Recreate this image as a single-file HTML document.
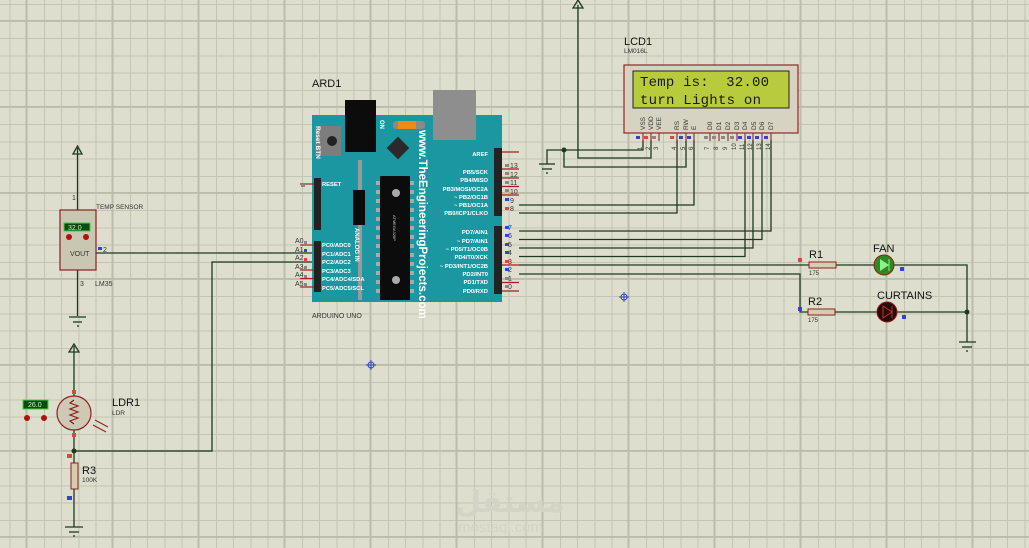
<!DOCTYPE html>
<html><head><meta charset="utf-8"><style>
html,body{margin:0;padding:0}
body{width:1029px;height:548px;overflow:hidden;position:relative;background:#dedecf;
background-image:
repeating-linear-gradient(90deg,transparent 0,transparent 25.7px,#bcbcaa 25.7px,#bcbcaa 27.4px,transparent 27.4px,transparent 86px),
repeating-linear-gradient(180deg,transparent 0,transparent 20px,#bcbcaa 20px,#bcbcaa 21.7px,transparent 21.7px,transparent 86px),
repeating-linear-gradient(90deg,transparent 0,transparent 9.5px,#c4c4b2 9.5px,#c4c4b2 10.5px,transparent 10.5px,transparent 17.2px),
repeating-linear-gradient(180deg,transparent 0,transparent 3.8px,#c4c4b2 3.8px,#c4c4b2 4.8px,transparent 4.8px,transparent 17.2px);}
svg{position:absolute;left:0;top:0}
text{font-family:"Liberation Sans",sans-serif}
</style></head><body>
<svg width="1029" height="548" viewBox="0 0 1029 548">
<g fill="none" stroke="#1d3a1d" stroke-width="1.3">
<polyline points="578,5 578,158 651,158 651,140"/>
<polyline points="643,140 643,150 547,150 547,164"/>
<polyline points="564,150 564,167 686,167 686,140"/>
<polyline points="519,213 677,213 677,140"/>
<polyline points="519,205 694,205 694,140"/>
<polyline points="519,231 771,231 771,140"/>
<polyline points="519,239.5 762,239.5 762,140"/>
<polyline points="519,248 753,248 753,140"/>
<polyline points="519,256.5 745,256.5 745,140"/>
<polyline points="519,265 809,265"/>
<polyline points="519,274 800,274 800,312 808,312"/>
<polyline points="836,265 874,265"/>
<polyline points="894,265 967,265 967,342"/>
<polyline points="835,312 877,312"/>
<polyline points="897,312 967,312"/>
<polyline points="77.5,148 77.5,210"/>
<polyline points="77.5,270 77.5,316"/>
<polyline points="96,253 312,253"/>
<polyline points="312,262 212,262 212,451 74,451"/>
<polyline points="74,346 74,396"/>
<polyline points="74,430 74,463"/>
<polyline points="74,489 74,527"/>
</g>
<g fill="none" stroke="#1d3a1d" stroke-width="1.3">
<path d="M573,8 L578,0 L583,8 Z"/>
<path d="M73,154 L77.5,146 L82,154 Z"/>
<path d="M69,352 L74,344 L79,352 Z"/>
</g>
<g stroke="#1d3a1d" stroke-width="1.3">
<line x1="539" y1="164" x2="555" y2="164"/><line x1="542" y1="169" x2="552" y2="169"/><line x1="546" y1="173" x2="548" y2="173"/>
<line x1="69" y1="317" x2="86" y2="317"/><line x1="73" y1="322" x2="82" y2="322"/><line x1="77" y1="326" x2="79" y2="326"/>
<line x1="65" y1="527" x2="83" y2="527"/><line x1="69" y1="532" x2="79" y2="532"/><line x1="73" y1="536" x2="75" y2="536"/>
<line x1="959" y1="342" x2="976" y2="342"/><line x1="962" y1="347" x2="972" y2="347"/><line x1="966" y1="351" x2="968" y2="351"/>
</g>
<g fill="#1d3a1d"><circle cx="564" cy="150" r="2.5"/><circle cx="967" cy="312" r="2.5"/><circle cx="74" cy="451" r="2.5"/></g>

<rect x="624" y="65" width="174" height="68" fill="#d6d3c2" stroke="#a03030" stroke-width="1.3"/>
<rect x="633" y="71" width="156" height="37" fill="#b7cb3c" stroke="#222" stroke-width="1"/>
<text x="640" y="86" font-size="14" fill="#1a1a1a" textLength="129" lengthAdjust="spacing" xml:space="preserve" style="font-family:'Liberation Mono',monospace">Temp is:  32.00</text>
<text x="640" y="104" font-size="14" fill="#1a1a1a" textLength="121" lengthAdjust="spacing" style="font-family:'Liberation Mono',monospace">turn Lights on</text>
<g font-size="6.5" fill="#333">
<text transform="translate(645,130) rotate(-90)">VSS</text><text transform="translate(653,130) rotate(-90)">VDD</text><text transform="translate(661,130) rotate(-90)">VEE</text>
<text transform="translate(679,130) rotate(-90)">RS</text><text transform="translate(688,130) rotate(-90)">RW</text><text transform="translate(696,130) rotate(-90)">E</text>
<text transform="translate(712,130) rotate(-90)">D0</text><text transform="translate(721,130) rotate(-90)">D1</text><text transform="translate(730,130) rotate(-90)">D2</text><text transform="translate(739,130) rotate(-90)">D3</text>
<text transform="translate(747,130) rotate(-90)">D4</text><text transform="translate(756,130) rotate(-90)">D5</text><text transform="translate(764,130) rotate(-90)">D6</text><text transform="translate(773,130) rotate(-90)">D7</text>
</g>
<g stroke="#a03030" stroke-width="1.2">
<line x1="643" y1="133" x2="643" y2="141"/><line x1="651" y1="133" x2="651" y2="141"/><line x1="659" y1="133" x2="659" y2="141"/>
<line x1="677" y1="133" x2="677" y2="141"/><line x1="686" y1="133" x2="686" y2="141"/><line x1="694" y1="133" x2="694" y2="141"/>
<line x1="710" y1="133" x2="710" y2="141"/><line x1="719" y1="133" x2="719" y2="141"/><line x1="728" y1="133" x2="728" y2="141"/><line x1="737" y1="133" x2="737" y2="141"/>
<line x1="745" y1="133" x2="745" y2="141"/><line x1="753" y1="133" x2="753" y2="141"/><line x1="762" y1="133" x2="762" y2="141"/><line x1="771" y1="133" x2="771" y2="141"/>
</g>
<g>
<rect x="636" y="136" width="4" height="3" fill="#3344cc"/><rect x="644" y="136" width="4" height="3" fill="#dd4444"/><rect x="652" y="136" width="4" height="3" fill="#888"/>
<rect x="670" y="136" width="4" height="3" fill="#dd4444"/><rect x="679" y="136" width="4" height="3" fill="#3344cc"/><rect x="687" y="136" width="4" height="3" fill="#3344cc"/>
<rect x="704" y="136" width="4" height="3" fill="#888"/><rect x="712" y="136" width="4" height="3" fill="#888"/><rect x="721" y="136" width="4" height="3" fill="#888"/><rect x="730" y="136" width="4" height="3" fill="#888"/>
<rect x="738" y="136" width="4" height="3" fill="#3344cc"/><rect x="747" y="136" width="4" height="3" fill="#3344cc"/><rect x="755" y="136" width="4" height="3" fill="#3344cc"/><rect x="764" y="136" width="4" height="3" fill="#3344cc"/>
</g>
<g font-size="6" fill="#333">
<text transform="translate(642,150) rotate(-90)">1</text><text transform="translate(650,150) rotate(-90)">2</text><text transform="translate(658,150) rotate(-90)">3</text>
<text transform="translate(676,150) rotate(-90)">4</text><text transform="translate(685,150) rotate(-90)">5</text><text transform="translate(693,150) rotate(-90)">6</text>
<text transform="translate(709,150) rotate(-90)">7</text><text transform="translate(718,150) rotate(-90)">8</text><text transform="translate(727,150) rotate(-90)">9</text><text transform="translate(736,150) rotate(-90)">10</text>
<text transform="translate(744,150) rotate(-90)">11</text><text transform="translate(752,150) rotate(-90)">12</text><text transform="translate(761,150) rotate(-90)">13</text><text transform="translate(770,150) rotate(-90)">14</text>
</g>
<text x="624" y="45" font-size="11" fill="#111">LCD1</text>
<text x="624" y="53" font-size="6.5" fill="#333">LM016L</text>

<text x="312" y="87" font-size="11" fill="#111">ARD1</text>
<rect x="312" y="115" width="190" height="187" fill="#1b97a1"/>
<rect x="345" y="100" width="31" height="52" fill="#0c0c0c"/>
<rect x="433" y="90" width="43" height="50" fill="#8e8e8e"/>
<rect x="315" y="126" width="26" height="30" fill="#7d7d7d"/>
<circle cx="332" cy="141" r="5" fill="#222"/>
<text transform="translate(316,126) rotate(90)" font-size="6.5" font-weight="bold" fill="#fff">Reset BTN</text>
<text transform="translate(380,120) rotate(90)" font-size="6" font-weight="bold" fill="#fff">ON</text>
<rect x="393" y="121" width="32" height="8" rx="3" fill="#8a8a8a"/>
<rect x="398" y="121" width="18" height="8" fill="#f08a10"/>
<rect x="390" y="140" width="16" height="16" fill="#2a2a2a" transform="rotate(45 398 148)"/>
<rect x="358" y="160" width="4" height="140" fill="#9a9a9a"/>
<rect x="353" y="190" width="12" height="35" fill="#0c0c0c"/>
<text transform="translate(355,228) rotate(90)" font-size="6" font-weight="bold" fill="#fff">ANALOG IN</text>
<rect x="380" y="176" width="30" height="124" fill="#0c0c0c"/>
<g fill="#a9a9a9">
<rect x="376" y="181" width="4" height="4"/><rect x="376" y="190" width="4" height="4"/><rect x="376" y="199" width="4" height="4"/><rect x="376" y="208" width="4" height="4"/><rect x="376" y="217" width="4" height="4"/><rect x="376" y="226" width="4" height="4"/><rect x="376" y="235" width="4" height="4"/><rect x="376" y="244" width="4" height="4"/><rect x="376" y="253" width="4" height="4"/><rect x="376" y="262" width="4" height="4"/><rect x="376" y="271" width="4" height="4"/><rect x="376" y="280" width="4" height="4"/><rect x="376" y="289" width="4" height="4"/>
<rect x="410" y="181" width="4" height="4"/><rect x="410" y="190" width="4" height="4"/><rect x="410" y="199" width="4" height="4"/><rect x="410" y="208" width="4" height="4"/><rect x="410" y="217" width="4" height="4"/><rect x="410" y="226" width="4" height="4"/><rect x="410" y="235" width="4" height="4"/><rect x="410" y="244" width="4" height="4"/><rect x="410" y="253" width="4" height="4"/><rect x="410" y="262" width="4" height="4"/><rect x="410" y="271" width="4" height="4"/><rect x="410" y="280" width="4" height="4"/><rect x="410" y="289" width="4" height="4"/>
<circle cx="396" cy="193" r="4"/><circle cx="396" cy="280" r="4"/>
</g>
<text transform="translate(393,215) rotate(90)" font-size="4" fill="#ccc">ATMEGA328P</text>
<text transform="translate(419,130) rotate(90)" font-size="11.5" font-weight="bold" fill="#fff">www.TheEngineeringProjects.com</text>
<g font-size="5.8" font-weight="bold" fill="#fff" text-anchor="end">
<text x="488" y="156">AREF</text><text x="488" y="174">PB5/SCK</text><text x="488" y="182">PB4/MISO</text><text x="488" y="191">PB3/MOSI/OC2A</text><text x="488" y="199">~ PB2/OC1B</text><text x="488" y="207">~ PB1/OC1A</text><text x="488" y="215">PB0/ICP1/CLKO</text>
<text x="488" y="234">PD7/AIN1</text><text x="488" y="243">~ PD7/AIN1</text><text x="488" y="251">~ PD5/T1/OC0B</text><text x="488" y="259">PD4/T0/XCK</text><text x="488" y="268">~ PD3/INT1/OC2B</text><text x="488" y="276">PD2/INT0</text><text x="488" y="284">PD1/TXD</text><text x="488" y="293">PD0/RXD</text>
</g>
<g font-size="5.8" font-weight="bold" fill="#fff">
<text x="322" y="186">RESET</text>
<text x="322" y="247">PC0/ADC0</text><text x="322" y="256">PC1/ADC1</text><text x="322" y="264">PC2/ADC2</text><text x="322" y="273">PC3/ADC3</text><text x="322" y="281">PC4/ADC4/SDA</text><text x="322" y="290">PC5/ADC5/SCL</text>
</g>
<rect x="494" y="148" width="8" height="68" fill="#222"/>
<rect x="494" y="226" width="8" height="68" fill="#222"/>
<rect x="314" y="178" width="7" height="52" fill="#222"/>
<rect x="314" y="241" width="7" height="51" fill="#222"/>
<g stroke="#a02020" stroke-width="1.2">
<line x1="502" y1="152" x2="519" y2="152"/><line x1="502" y1="169" x2="519" y2="169"/><line x1="502" y1="178" x2="519" y2="178"/><line x1="502" y1="186.5" x2="519" y2="186.5"/><line x1="502" y1="195" x2="519" y2="195"/>
<line x1="502" y1="265" x2="519" y2="265"/><line x1="502" y1="282.5" x2="519" y2="282.5"/><line x1="502" y1="291" x2="519" y2="291"/>
<line x1="300" y1="184" x2="314" y2="184"/>
<line x1="300" y1="245" x2="314" y2="245"/><line x1="300" y1="270" x2="314" y2="270"/><line x1="300" y1="278.5" x2="314" y2="278.5"/><line x1="300" y1="287" x2="314" y2="287"/>
</g>
<g font-size="7" fill="#333">
<text x="510" y="168">13</text><text x="510" y="177">12</text><text x="510" y="185">11</text><text x="510" y="194">10</text><text x="510" y="203">9</text><text x="510" y="211">8</text>
<text x="508" y="230">7</text><text x="508" y="238">6</text><text x="508" y="247">5</text><text x="508" y="255">4</text><text x="508" y="264">3</text><text x="508" y="272">2</text><text x="508" y="281">1</text><text x="508" y="289">0</text>
<text x="295" y="243">A0</text><text x="295" y="252">A1</text><text x="295" y="260">A2</text><text x="295" y="269">A3</text><text x="295" y="277">A4</text><text x="295" y="286">A5</text>
</g>
<g>
<rect x="505" y="164" width="4" height="3" fill="#888"/><rect x="505" y="172" width="4" height="3" fill="#888"/><rect x="505" y="181" width="4" height="3" fill="#888"/><rect x="505" y="189" width="4" height="3" fill="#888"/><rect x="505" y="198" width="4" height="3" fill="#3344cc"/><rect x="505" y="207" width="4" height="3" fill="#dd4444"/>
<rect x="505" y="226" width="4" height="3" fill="#3344cc"/><rect x="505" y="234" width="4" height="3" fill="#3344cc"/><rect x="505" y="243" width="4" height="3" fill="#3344cc"/><rect x="505" y="251" width="4" height="3" fill="#3344cc"/><rect x="505" y="260" width="4" height="3" fill="#dd4444"/><rect x="505" y="268" width="4" height="3" fill="#3344cc"/><rect x="505" y="277" width="4" height="3" fill="#888"/><rect x="505" y="285" width="4" height="3" fill="#888"/>
<rect x="304" y="241" width="3" height="3" fill="#888"/><rect x="304" y="249" width="3" height="3" fill="#3344cc"/><rect x="304" y="258" width="3" height="3" fill="#dd4444"/><rect x="304" y="266" width="3" height="3" fill="#888"/><rect x="304" y="275" width="3" height="3" fill="#888"/><rect x="304" y="283" width="3" height="3" fill="#888"/>
<rect x="301" y="184" width="4" height="3" fill="#888"/>
</g>
<text x="312" y="318" font-size="7" fill="#333">ARDUINO UNO</text>

<rect x="60" y="210" width="36" height="60" fill="#c9c6b2" stroke="#8b2020" stroke-width="1.2"/>
<rect x="64" y="223" width="26" height="8" fill="#0e4a14" stroke="#3bd23b"/>
<text x="68" y="230" font-size="7" fill="#bff5bf">32.0</text>
<circle cx="69" cy="237" r="3" fill="#b01010"/><circle cx="86" cy="237" r="3" fill="#b01010"/>
<text x="70" y="256" font-size="7" fill="#333">VOUT</text>
<rect x="98" y="247" width="4" height="3" fill="#3344cc"/>
<g font-size="7" fill="#333"><text x="72" y="200">1</text><text x="103" y="252">2</text><text x="80" y="286">3</text><text x="95" y="286">LM35</text></g>
<text x="96" y="209" font-size="6.5" fill="#333">TEMP SENSOR</text>

<circle cx="74" cy="413" r="17" fill="#cfc8b4" stroke="#8b2020" stroke-width="1.2"/>
<polyline points="74,400 70,403 78,406 70,409 78,412 70,415 78,418 70,421 74,424" fill="none" stroke="#8b2020" stroke-width="1.2"/>
<g stroke="#8b2020" stroke-width="1"><line x1="95" y1="420" x2="108" y2="427"/><line x1="93" y1="425" x2="106" y2="432"/></g>
<rect x="72" y="390" width="4" height="4" fill="#dd4444"/><rect x="72" y="433" width="4" height="4" fill="#dd4444"/>
<rect x="23" y="400" width="25" height="9" fill="#0e4a14" stroke="#3bd23b"/>
<text x="28" y="407" font-size="7" fill="#bff5bf">26.0</text>
<circle cx="27" cy="418" r="3" fill="#b01010"/><circle cx="44" cy="418" r="3" fill="#b01010"/>
<text x="112" y="406" font-size="11" fill="#111">LDR1</text>
<text x="112" y="415" font-size="6.5" fill="#333">LDR</text>
<rect x="71" y="463" width="7" height="26" fill="#d6ccb0" stroke="#8b2020"/>
<rect x="67" y="454" width="5" height="4" fill="#dd4444"/><rect x="67" y="496" width="5" height="4" fill="#3344cc"/>
<text x="82" y="474" font-size="11" fill="#111">R3</text><text x="82" y="482" font-size="6.5" fill="#333">100K</text>

<rect x="809" y="262" width="27" height="6" fill="#d6ccb0" stroke="#8b2020"/>
<rect x="808" y="309" width="27" height="6" fill="#d6ccb0" stroke="#8b2020"/>
<rect x="798" y="258" width="4" height="4" fill="#dd4444"/><rect x="798" y="307" width="4" height="4" fill="#3344cc"/>
<text x="809" y="258" font-size="11" fill="#111">R1</text><text x="809" y="275" font-size="6" fill="#333">175</text>
<text x="808" y="305" font-size="11" fill="#111">R2</text><text x="808" y="322" font-size="6" fill="#333">175</text>
<circle cx="884" cy="265" r="10" fill="#2c8a1e" stroke="#8b2020"/>
<path d="M880,259 L889,265 L880,271 Z" fill="#8ff08f"/><line x1="889" y1="259" x2="889" y2="271" stroke="#8ff08f"/>
<circle cx="887" cy="312" r="10" fill="#2a0808" stroke="#8b2020"/>
<path d="M883,306 L892,312 L883,318 Z" fill="none" stroke="#c03030"/><line x1="892" y1="306" x2="892" y2="318" stroke="#c03030"/>
<rect x="900" y="267" width="4" height="4" fill="#3344cc"/><rect x="902" y="315" width="4" height="4" fill="#3344cc"/>
<text x="873" y="252" font-size="11" fill="#111">FAN</text>
<text x="877" y="299" font-size="11" fill="#111">CURTAINS</text>

<g stroke="#3344cc" stroke-width="1" fill="none">
<circle cx="624" cy="297" r="3"/><line x1="619" y1="297" x2="629" y2="297"/><line x1="624" y1="292" x2="624" y2="302"/>
<circle cx="371" cy="365" r="3"/><line x1="366" y1="365" x2="376" y2="365"/><line x1="371" y1="360" x2="371" y2="370"/>
</g>
<text x="455" y="512" font-size="30" font-weight="bold" fill="#d4d4c6" style="font-family:'Liberation Sans','DejaVu Sans',sans-serif">مستقل</text>
<text x="458" y="532" font-size="15" fill="#d4d4c6">mostaql.com</text>
</svg>
</body></html>
